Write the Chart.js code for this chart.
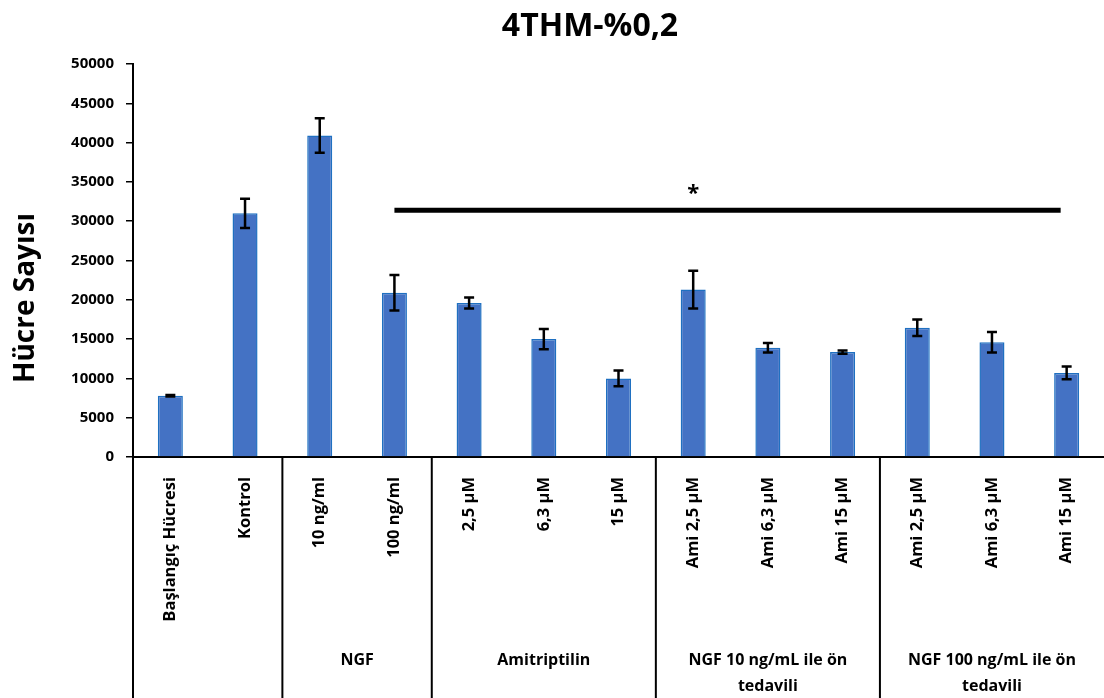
<!DOCTYPE html>
<html>
<head>
<meta charset="utf-8">
<script src="https://cdn.jsdelivr.net/npm/chart.js@4"></script>
<style>
  body { margin: 0; background: #fff; }
  canvas { display: block; }
</style>
</head>
<body>
<canvas id="cells" width="1104" height="698"></canvas>
<script>
const chartTitle = "4THM-%0,2";
const yTitle = "Hücre Sayısı";

const categories = [
  "Başlangıç Hücresi", "Kontrol",
  "10 ng/ml", "100 ng/ml",
  "2,5 µM", "6,3 µM", "15 µM",
  "Ami 2,5 µM", "Ami 6,3 µM", "Ami 15 µM",
  "Ami 2,5 µM", "Ami 6,3 µM", "Ami 15 µM",
];
const means = [7800, 31000, 40900, 20900, 19600, 15000, 10000, 21300, 13900, 13350, 16450, 14600, 10700];
const errors = [100, 1850, 2200, 2250, 700, 1300, 1000, 2400, 600, 200, 1050, 1300, 800];

// groups shown under the rotated labels
const groupLabels = [["NGF"], ["Amitriptilin"], ["NGF 10 ng/mL ile ön", "tedavili"], ["NGF 100 ng/mL ile ön", "tedavili"]];
const groupStart = [2, 4, 7, 10];
const groupEnd = [3, 6, 9, 12];

// significance bar
const sigFrom = 3;
const sigTo = 12;
const sigLevel = 31400;
const sigMarkAt = 7;
const sigText = "*";

const FONT = "'Open Sans', sans-serif";

const extras = {
  id: "extras",
  afterDatasetsDraw(chart) {
    const { ctx, scales: { x, y } } = chart;
    ctx.save();
    ctx.strokeStyle = "#000";
    ctx.lineWidth = 2.5;
    means.forEach((m, i) => {
      const cx = x.getPixelForValue(i);
      const top = y.getPixelForValue(m + errors[i]);
      const bot = y.getPixelForValue(m - errors[i]);
      ctx.beginPath();
      ctx.moveTo(cx, top);
      ctx.lineTo(cx, bot);
      ctx.moveTo(cx - 5, top);
      ctx.lineTo(cx + 5, top);
      ctx.moveTo(cx - 5, bot);
      ctx.lineTo(cx + 5, bot);
      ctx.stroke();
    });

    // significance line and star
    const sy = y.getPixelForValue(sigLevel);
    ctx.lineWidth = 5;
    ctx.beginPath();
    ctx.moveTo(x.getPixelForValue(sigFrom), sy);
    ctx.lineTo(x.getPixelForValue(sigTo) - 6, sy);
    ctx.stroke();
    ctx.fillStyle = "#000";
    ctx.font = "bold 22px " + FONT;
    ctx.textAlign = "center";
    ctx.textBaseline = "alphabetic";
    ctx.fillText(sigText, x.getPixelForValue(sigMarkAt), sy - 10);
    ctx.restore();
  },
  afterDraw(chart) {
    const { ctx, chartArea, scales: { x } } = chart;
    const H = chart.height;
    const half = (i) => (x.getPixelForValue(i - 1) + x.getPixelForValue(i)) / 2;
    ctx.save();
    ctx.strokeStyle = "#000";
    ctx.lineWidth = 2;
    const seps = [chartArea.left].concat(groupStart.map(half));
    seps.forEach((sx) => {
      ctx.beginPath();
      ctx.moveTo(sx, chartArea.bottom);
      ctx.lineTo(sx, H);
      ctx.stroke();
    });

    ctx.fillStyle = "#000";
    ctx.textAlign = "center";
    ctx.textBaseline = "middle";
    ctx.font = "bold 16px " + FONT;
    groupLabels.forEach((lines, g) => {
      const left = half(groupStart[g]);
      const right = groupEnd[g] + 1 < categories.length ? half(groupEnd[g] + 1) : chartArea.right;
      const cx = (left + right) / 2;
      lines.forEach((t, k) => ctx.fillText(t, cx, 660 + k * 26));
    });

    // title
    ctx.font = "bold 32px " + FONT;
    ctx.textBaseline = "alphabetic";
    ctx.fillText(chartTitle, 590, 36);

    // y axis title
    ctx.translate(26, 298);
    ctx.rotate(-Math.PI / 2);
    ctx.font = "bold 28px " + FONT;
    ctx.textBaseline = "middle";
    ctx.fillText(yTitle, 0, 0);
    ctx.restore();
  },
};

new Chart(document.getElementById("cells").getContext("2d"), {
  type: "bar",
  data: {
    labels: categories,
    datasets: [
      {
        data: means,
        backgroundColor: "#4472C4",
        borderColor: "#1F70C1",
        borderWidth: 1.5,
        categoryPercentage: 1,
        barPercentage: 0.335,
      },
    ],
  },
  options: {
    responsive: false,
    animation: false,
    devicePixelRatio: 1,
    layout: { padding: { top: 64, left: 0, right: 0, bottom: 0 } },
    plugins: {
      legend: { display: false },
      tooltip: { enabled: false },
    },
    scales: {
      x: {
        afterFit: (s) => { s.height = 241; },
        grid: { display: false },
        border: { display: true, color: "#000", width: 2 },
        ticks: {
          color: "#000",
          font: { family: FONT, weight: "bold", size: 16.5 },
          minRotation: 90,
          maxRotation: 90,
          autoSkip: false,
          padding: 12,
        },
      },
      y: {
        min: 0,
        max: 50000,
        afterFit: (s) => { s.width = 133; },
        grid: { drawOnChartArea: false, color: "#000", lineWidth: 1.5, tickLength: 7 },
        border: { display: true, color: "#000", width: 2 },
        ticks: {
          stepSize: 5000,
          color: "#000",
          font: { family: FONT, weight: "bold", size: 15 },
          padding: 12,
          callback: (v) => String(v),
        },
      },
    },
  },
  plugins: [extras],
});
</script>
</body>
</html>
